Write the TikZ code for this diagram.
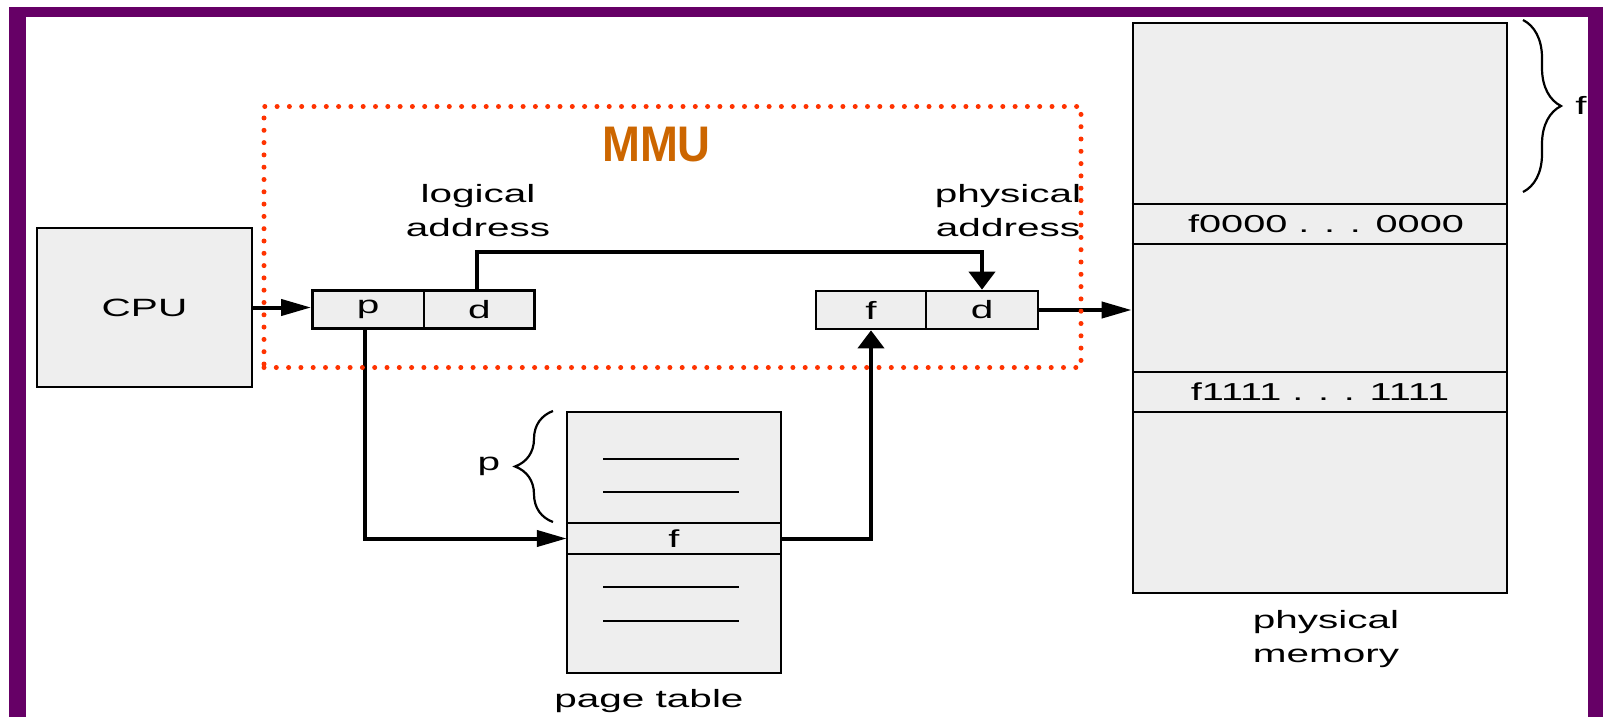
\documentclass[tikz,border=0pt]{standalone}
\usepackage{fontspec}
\setmainfont{Liberation Sans}
\newfontfamily\labfont[FakeStretch=1.62]{Liberation Sans}
\newfontfamily\mmufont[FakeStretch=0.91]{Liberation Sans}
\usetikzlibrary{arrows.meta,decorations.pathreplacing}
\definecolor{framepurple}{HTML}{660066}
\definecolor{boxgray}{HTML}{EEEEEE}
\definecolor{mmured}{HTML}{FF3300}
\definecolor{mmuorange}{HTML}{CC6600}
\begin{document}
\begin{tikzpicture}[x=1pt,y=-1pt,
  lbl/.style={font=\labfont\fontsize{25}{34}\selectfont, align=center, inner sep=0pt},
  cell/.style={draw, fill=boxgray, line width=2.7pt, minimum height=38pt,
    inner sep=0pt, font=\labfont\fontsize{25}{30}\selectfont},
  rowtext/.style={inner sep=0pt, font=\labfont\fontsize{24.5}{30}\selectfont},
  thinrule/.style={line width=2pt},
  harr/.style={line width=4pt, -{Triangle[length=30pt,width=16pt]}},
  varr/.style={line width=4pt, -{Triangle[length=18pt,width=26pt]}},
  bracestyle/.style={line width=2.2pt, decorate, decoration={brace, amplitude=38pt}},
  mmuframe/.style={draw=mmured, line width=5pt, line cap=round,
    dash pattern=on 0pt off 12.3pt, inner sep=0pt}]
\useasboundingbox (0,0) rectangle (1606,717);

% slide frame
\fill[framepurple] (9,7) rectangle (1603,717);
\fill[white] (26,17) rectangle (1588,717);

% CPU
\node[cell, minimum width=215pt, minimum height=159pt] (cpu) at (144.5,307.5) {CPU};

% logical address register
\node[cell, minimum width=111.5pt] (pcell) at (368.2,309.5) {p};
\node[cell, minimum width=110.6pt] (dl) at (479.3,309.5) {d};
\node[lbl] (lalab) at (478,211) {logical\\address};

% physical address register
\node[cell, minimum width=110pt] (fcell) at (871,310) {f};
\node[cell, minimum width=112pt] (dp) at (982,310) {d};
\node[lbl] (palab) at (1008,211) {physical\\address};

% page table
\node[draw, fill=boxgray, line width=2.7pt, minimum width=214pt, minimum height=261pt] (ptab) at (674,542.5) {};
\node[rowtext, minimum width=214pt, minimum height=31pt] (frow) at (674,538.5) {f};
\draw[thinrule, line width=2.5pt] (frow.north west) -- (frow.north east);
\draw[thinrule, line width=2.5pt] (frow.south west) -- (frow.south east);
\draw[thinrule] (603,459) -- (739,459);
\draw[thinrule] (603,492) -- (739,492);
\draw[thinrule] (603,587) -- (739,587);
\draw[thinrule] (603,621) -- (739,621);
\node[lbl] (ptlab) at (649,701) {page table};
\draw[bracestyle] (553,522) -- (553,411);
\node[lbl] (pbr) at (489,466) {p};

% physical memory
\node[draw, fill=boxgray, line width=2.7pt, minimum width=374pt, minimum height=570pt] (mem) at (1320,308) {};
\node[rowtext, minimum width=374pt, minimum height=40pt] (row0) at (1326,224) {f0000 . . . 0000};
\node[rowtext, minimum width=374pt, minimum height=40pt] (row1) at (1320,392) {f1111 . . . 1111};
\draw[thinrule] (row0.north west -| mem.west) -- (row0.north east -| mem.east);
\draw[thinrule] (row0.south west -| mem.west) -- (row0.south east -| mem.east);
\draw[thinrule] (row1.north west) -- (row1.north east);
\draw[thinrule] (row1.south west) -- (row1.south east);
\node[lbl] (pmlab) at (1326,639) {physical\\memory};
\draw[bracestyle] (1523,20) -- (1523,192);
\node[lbl] (fbr) at (1581,105) {f};

% connectors
\draw[harr] (cpu.east) -- (cpu.east -| pcell.west);
\draw[varr] ([xshift=-2pt]dl.north) -- ++(0,-37) -| (dp.north);
\draw[harr] ([xshift=-3pt]pcell.south) |- (frow.west);
\draw[varr] (frow.east) -| (fcell.south);
\draw[harr] (dp.east) -- (dp.east -| mem.west);

% MMU region
\node[mmuframe, minimum width=817pt, minimum height=261pt] (mmubox) at (672.5,237) {};
\node[font=\mmufont\bfseries\fontsize{50}{60}\selectfont, text=mmuorange, inner sep=0pt] (mmu) at (656.5,145) {MMU};
\end{tikzpicture}
\end{document}
